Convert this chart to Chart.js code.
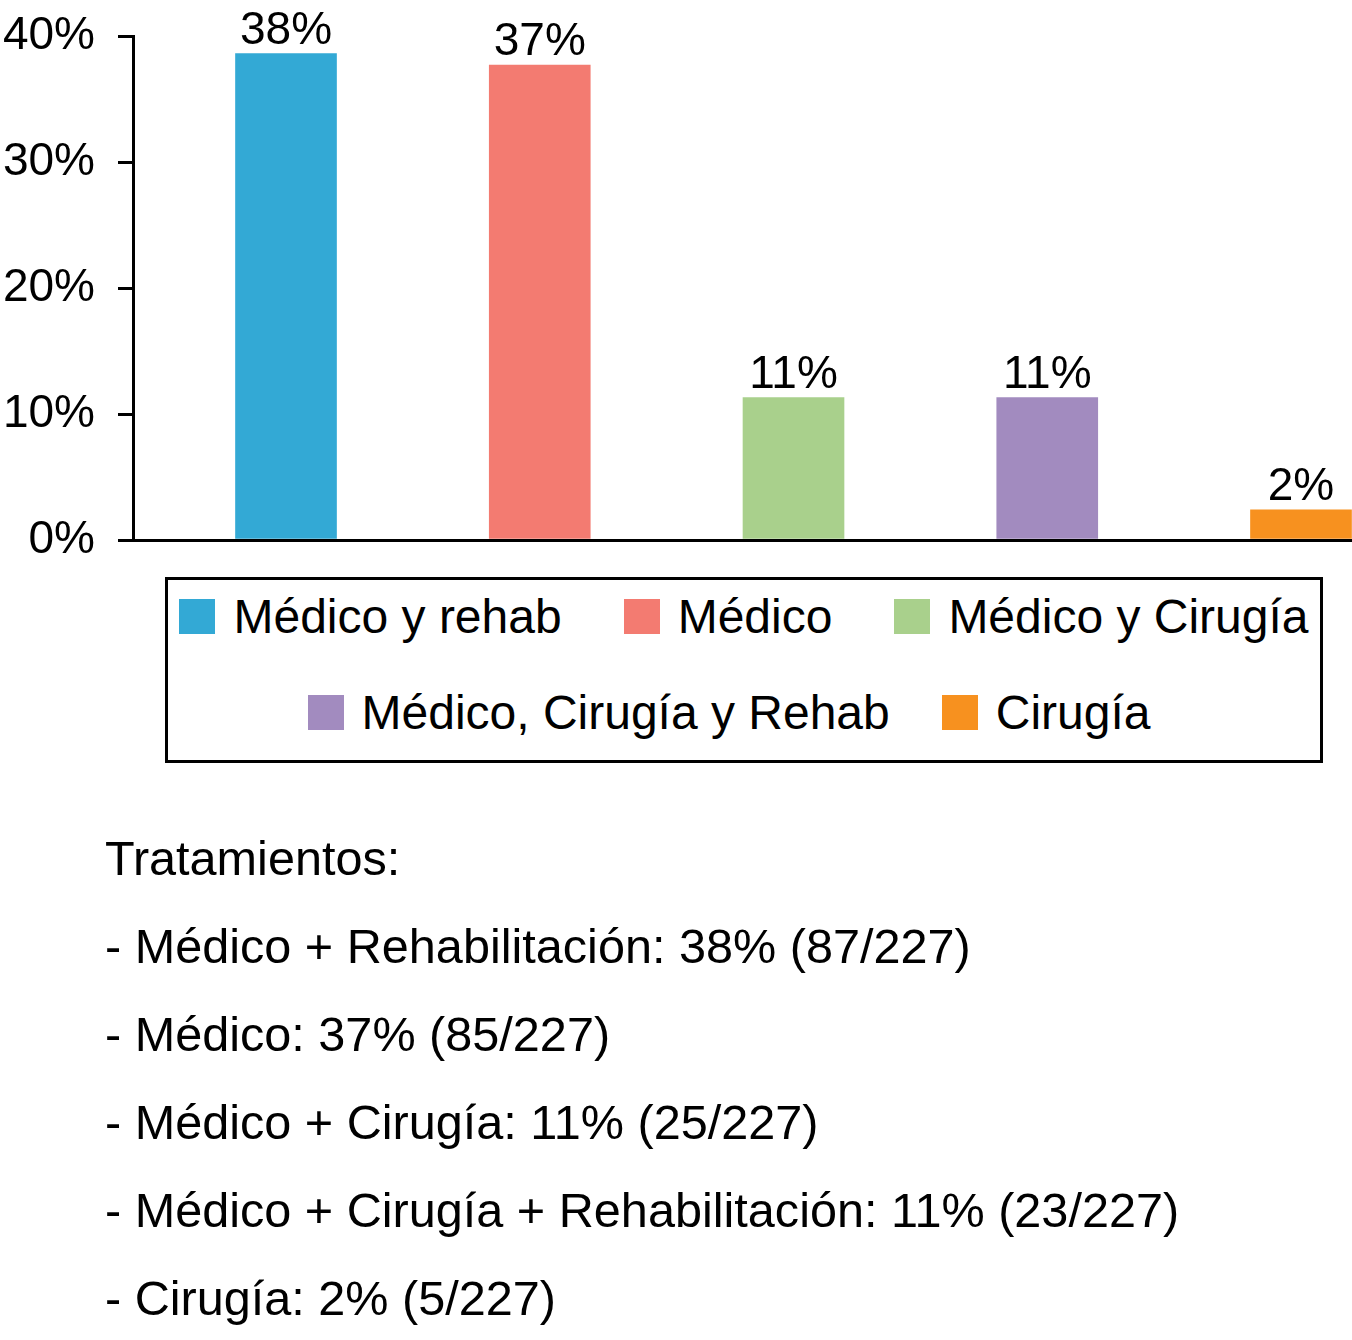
<!DOCTYPE html>
<html>
<head>
<meta charset="utf-8">
<script src="https://cdn.jsdelivr.net/npm/chart.js@4.4.1/dist/chart.umd.min.js"></script>
<style>
  html, body { margin: 0; padding: 0; background: #fff; overflow: hidden; }
  body { width: 1352px; height: 1340px; position: relative; font-family: "Liberation Sans", Arial, Helvetica, sans-serif; color: #000; }
  #wrap { position: absolute; left: 0; top: 0; width: 1352px; height: 560px; }
  #legend { position: absolute; left: 165px; top: 577px; width: 1158px; height: 186px; box-sizing: border-box; border: 3px solid #000; padding-top: 6px; }
  .lrow { height: 60px; display: flex; align-items: center; justify-content: center; gap: 62px; }
  .lrow + .lrow { margin-top: 36px; padding-right: 30px; gap: 52px; }
  .litem { display: flex; align-items: center; font-size: 48px; white-space: nowrap; }
  .sw { width: 36px; height: 35px; margin-right: 18px; flex: none; }
  #notes { position: absolute; left: 105px; top: 814px; font-size: 48.6px; line-height: 88px; white-space: nowrap; }
</style>
</head>
<body>
<div id="wrap"><canvas id="c" width="1352" height="560"></canvas></div>
<div id="legend"></div>
<div id="notes"></div>
<script>
// ---- data ----
const categories = ["Médico y rehab", "Médico", "Médico y Cirugía", "Médico, Cirugía y Rehab", "Cirugía"];
const values = [38.6, 37.7, 11.3, 11.3, 2.4];
const valueLabels = ["38%", "37%", "11%", "11%", "2%"];
const colors = ["#33a9d5", "#f37b71", "#a9d08c", "#a28bbf", "#f7911f"];
const yTicks = [0, 10, 20, 30, 40];
const notesTitle = "Tratamientos:";
const notesNames = ["Médico + Rehabilitación", "Médico", "Médico + Cirugía", "Médico + Cirugía + Rehabilitación", "Cirugía"];
const notesCounts = [87, 85, 25, 23, 5];
const notesTotal = 227;

// ---- legend (HTML) ----
const legend = document.getElementById('legend');
const rows = [[0, 1, 2], [3, 4]];
rows.forEach(r => {
  const row = document.createElement('div');
  row.className = 'lrow';
  r.forEach(i => {
    const it = document.createElement('div');
    it.className = 'litem';
    const sw = document.createElement('span');
    sw.className = 'sw';
    sw.style.background = colors[i];
    const tx = document.createElement('span');
    tx.textContent = categories[i];
    it.appendChild(sw); it.appendChild(tx);
    row.appendChild(it);
  });
  legend.appendChild(row);
});

// ---- notes ----
const notes = document.getElementById('notes');
const lines = [notesTitle].concat(notesNames.map((n, i) => "- " + n + ": " + valueLabels[i] + " (" + notesCounts[i] + "/" + notesTotal + ")"));
lines.forEach(t => { const d = document.createElement('div'); d.textContent = t; notes.appendChild(d); });

// ---- chart ----
const FONT = '"Liberation Sans", Arial, Helvetica, sans-serif';
const AREA = { left: 133, top: 36, right: 1352, bottom: 540 };
const valueLabelPlugin = {
  id: 'valueLabels',
  afterDatasetsDraw(chart) {
    const ctx = chart.ctx;
    const meta = chart.getDatasetMeta(0);
    ctx.save();
    ctx.font = '46px ' + FONT;
    ctx.fillStyle = '#000';
    ctx.textAlign = 'center';
    ctx.textBaseline = 'alphabetic';
    meta.data.forEach((bar, i) => {
      ctx.fillText(valueLabels[i], bar.x, bar.y - 10);
    });
    ctx.restore();
  }
};

const chart = new Chart(document.getElementById('c'), {
  type: 'bar',
  data: {
    datasets: [{
      data: values.map((v, i) => ({ x: i, y: v })),
      backgroundColor: colors,
      borderWidth: 0,
      barThickness: 101
    }]
  },
  options: {
    responsive: false,
    animation: false,
    devicePixelRatio: 1,
    layout: { padding: { left: 0, right: 0, top: AREA.top, bottom: 560 - AREA.bottom } },
    plugins: { legend: { display: false }, tooltip: { enabled: false } },
    scales: {
      x: {
        type: 'linear',
        offset: false,
        min: -0.603,
        max: 4.201,
        grid: { display: false },
        ticks: { display: false },
        border: { display: true, color: '#000', width: 3 },
        afterFit(s) { s.height = 0; s.paddingLeft = 0; s.paddingRight = 0; }
      },
      y: {
        min: 0,
        max: 40,
        afterBuildTicks(s) { s.ticks = yTicks.map(v => ({ value: v })); },
        ticks: {
          padding: 23,
          color: '#000',
          font: { size: 46, family: FONT },
          callback: v => v + '%'
        },
        grid: { display: true, drawOnChartArea: false, drawTicks: true, tickLength: 15, lineWidth: 3, tickWidth: 3, tickColor: '#000', color: '#000' },
        border: { display: true, color: '#000', width: 3 },
        afterFit(s) { s.width = AREA.left; s.paddingTop = 0; s.paddingBottom = 0; }
      }
    }
  },
  plugins: [valueLabelPlugin]
});
</script>
</body>
</html>
